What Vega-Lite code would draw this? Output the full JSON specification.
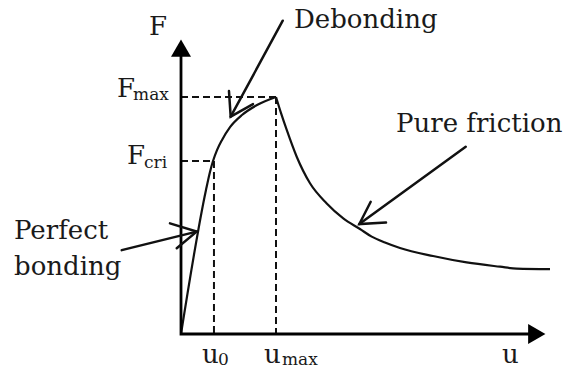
{
  "$schema": "https://vega.github.io/schema/vega-lite/v6.json",
  "width": 568,
  "height": 372,
  "padding": 0,
  "autosize": {"type": "fit", "contains": "padding"},
  "background": "white",
  "config": {"view": {"stroke": null}},
  "datasets": {
    "curve": [
      {"seg": "rise", "k": 0, "u": 0, "F": 0},
      {"seg": "rise", "k": 1, "u": 0.263, "F": 0.608},
      {"seg": "rise", "k": 2, "u": 0.305, "F": 0.684},
      {"seg": "rise", "k": 3, "u": 0.337, "F": 0.730},
      {"seg": "rise", "k": 4, "u": 0.379, "F": 0.776},
      {"seg": "rise", "k": 5, "u": 0.432, "F": 0.819},
      {"seg": "rise", "k": 6, "u": 0.516, "F": 0.873},
      {"seg": "rise", "k": 7, "u": 0.642, "F": 0.924},
      {"seg": "rise", "k": 8, "u": 0.800, "F": 0.966},
      {"seg": "rise", "k": 9, "u": 1.000, "F": 1.000},
      {"seg": "fall", "k": 10, "u": 1.000, "F": 1.000},
      {"seg": "fall", "k": 11, "u": 1.053, "F": 0.932},
      {"seg": "fall", "k": 12, "u": 1.113, "F": 0.861},
      {"seg": "fall", "k": 13, "u": 1.218, "F": 0.748},
      {"seg": "fall", "k": 14, "u": 1.358, "F": 0.636},
      {"seg": "fall", "k": 15, "u": 1.534, "F": 0.551},
      {"seg": "fall", "k": 16, "u": 1.708, "F": 0.488},
      {"seg": "fall", "k": 17, "u": 1.884, "F": 0.443},
      {"seg": "fall", "k": 18, "u": 2.007, "F": 0.411},
      {"seg": "fall", "k": 19, "u": 2.147, "F": 0.386},
      {"seg": "fall", "k": 20, "u": 2.305, "F": 0.363},
      {"seg": "fall", "k": 21, "u": 2.653, "F": 0.329},
      {"seg": "fall", "k": 22, "u": 3.007, "F": 0.302},
      {"seg": "fall", "k": 23, "u": 3.358, "F": 0.284},
      {"seg": "fall", "k": 24, "u": 3.534, "F": 0.276},
      {"seg": "fall", "k": 25, "u": 3.884, "F": 0.274}
    ],
    "axes": [
      {"id": "axes", "k": 0, "u": 0, "F": 1.19},
      {"id": "axes", "k": 1, "u": 0, "F": 0},
      {"id": "axes", "k": 2, "u": 3.69, "F": 0}
    ],
    "dashes": [
      {"id": "Fmax", "k": 0, "u": 0, "F": 1.0},
      {"id": "Fmax", "k": 1, "u": 1.0, "F": 1.0},
      {"id": "umax", "k": 0, "u": 1.0, "F": 1.0},
      {"id": "umax", "k": 1, "u": 1.0, "F": 0},
      {"id": "Fcri", "k": 0, "u": 0, "F": 0.730},
      {"id": "Fcri", "k": 1, "u": 0.337, "F": 0.730},
      {"id": "u0", "k": 0, "u": 0.347, "F": 0.730},
      {"id": "u0", "k": 1, "u": 0.347, "F": 0}
    ],
    "arrows": [
      {"id": "deb-shaft", "k": 0, "u": 1.071, "F": 1.322},
      {"id": "deb-shaft", "k": 1, "u": 0.523, "F": 0.917},
      {"id": "deb-head", "k": 0, "u": 0.505, "F": 1.025},
      {"id": "deb-head", "k": 1, "u": 0.523, "F": 0.917},
      {"id": "deb-head", "k": 2, "u": 0.758, "F": 0.970},
      {"id": "fri-shaft", "k": 0, "u": 2.997, "F": 0.790},
      {"id": "fri-shaft", "k": 1, "u": 1.877, "F": 0.464},
      {"id": "fri-head", "k": 0, "u": 1.997, "F": 0.558},
      {"id": "fri-head", "k": 1, "u": 1.877, "F": 0.464},
      {"id": "fri-head", "k": 2, "u": 2.158, "F": 0.470},
      {"id": "per-shaft", "k": 0, "u": -0.624, "F": 0.354},
      {"id": "per-shaft", "k": 1, "u": 0.165, "F": 0.432},
      {"id": "per-head", "k": 0, "u": -0.116, "F": 0.467},
      {"id": "per-head", "k": 1, "u": 0.165, "F": 0.432},
      {"id": "per-head", "k": 2, "u": -0.045, "F": 0.362}
    ],
    "labels": [
      {"text": "F", "u": -0.337, "F": 1.262},
      {"text": "Debonding", "u": 1.189, "F": 1.290},
      {"text": "Pure friction", "u": 2.263, "F": 0.854},
      {"text": "Perfect", "u": -1.758, "F": 0.401},
      {"text": "bonding", "u": -1.758, "F": 0.249},
      {"text": "F", "u": -0.674, "F": 1.000},
      {"text": "F", "u": -0.568, "F": 0.717},
      {"text": "u", "u": 0.221, "F": -0.122},
      {"text": "u", "u": 0.874, "F": -0.122},
      {"text": "u", "u": 3.379, "F": -0.122}
    ],
    "subs": [
      {"text": "max", "u": -0.505, "F": 0.987},
      {"text": "cri", "u": -0.389, "F": 0.700},
      {"text": "0", "u": 0.389, "F": -0.131},
      {"text": "max", "u": 1.063, "F": -0.131}
    ]
  },
  "encoding": {
    "x": {"field": "u", "type": "quantitative", "axis": null, "scale": {"domain": [-1.9053, 4.0737], "nice": false, "zero": false}},
    "y": {"field": "F", "type": "quantitative", "axis": null, "scale": {"domain": [-0.1603, 1.4093], "nice": false, "zero": false}}
  },
  "layer": [
    {
      "data": {"name": "dashes"},
      "mark": {"type": "line", "color": "#111", "strokeWidth": 2, "strokeDash": [7, 4]},
      "encoding": {"detail": {"field": "id"}, "order": {"field": "k"}}
    },
    {
      "data": {"name": "curve"},
      "mark": {"type": "line", "color": "#111", "strokeWidth": 2.2, "interpolate": "monotone"},
      "encoding": {"detail": {"field": "seg"}, "order": {"field": "k"}}
    },
    {
      "data": {"name": "axes"},
      "mark": {"type": "line", "color": "#000", "strokeWidth": 2.8},
      "encoding": {"detail": {"field": "id"}, "order": {"field": "k"}}
    },
    {
      "data": {"values": [{"u": 0, "F": 1.206}]},
      "mark": {"type": "point", "shape": "triangle-up", "size": 400, "filled": true, "color": "#000", "opacity": 1, "strokeWidth": 0}
    },
    {
      "data": {"values": [{"u": 3.745, "F": 0}]},
      "mark": {"type": "point", "shape": "triangle-right", "size": 400, "filled": true, "color": "#000", "opacity": 1, "strokeWidth": 0}
    },
    {
      "data": {"name": "arrows"},
      "mark": {"type": "line", "color": "#111", "strokeWidth": 2.5, "strokeCap": "round", "strokeJoin": "miter"},
      "encoding": {"detail": {"field": "id"}, "order": {"field": "k"}}
    },
    {
      "data": {"name": "labels"},
      "mark": {"type": "text", "font": "DejaVu Serif", "fontSize": 26, "align": "left", "baseline": "alphabetic", "color": "#1a1a1a"},
      "encoding": {"text": {"field": "text"}}
    },
    {
      "data": {"name": "subs"},
      "mark": {"type": "text", "font": "DejaVu Serif", "fontSize": 17, "align": "left", "baseline": "alphabetic", "color": "#1a1a1a"},
      "encoding": {"text": {"field": "text"}}
    }
  ]
}
